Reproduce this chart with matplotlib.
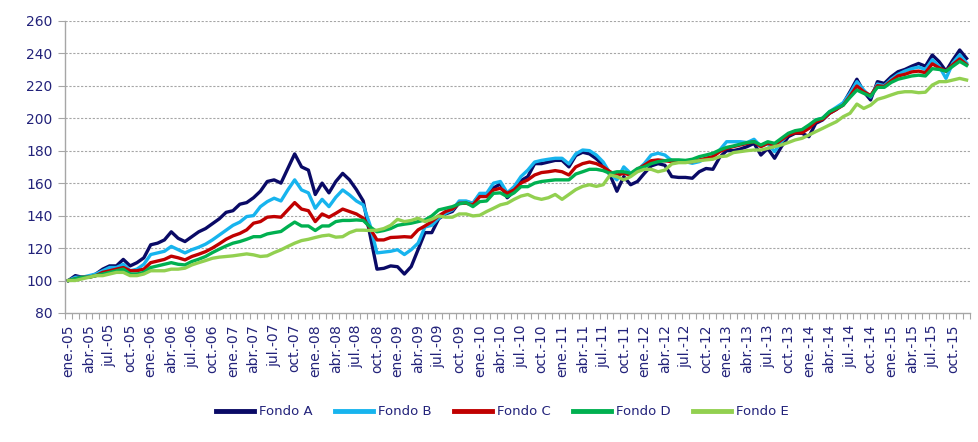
import matplotlib.pyplot as plt
from matplotlib.ticker import FixedLocator

# monthly index values, ene-05 .. dic-15 (base 100)
fondo_a = [100, 103, 102, 102, 104, 107, 109, 109, 113, 109, 111, 114, 122, 123, 125, 130, 126,
           124, 127, 130, 132, 135, 138, 142, 143, 147, 148, 151, 155, 161, 162, 160, 169, 178,
           170, 168, 153, 160, 154, 161, 166, 162, 156, 149, 128, 107, 107.5, 109, 108.5, 104,
           108.6, 119, 129.5, 129.5, 138, 141, 142.5, 148, 148.5, 147.5, 153, 153, 157, 159.5, 151, 155, 161.5,
           164, 172, 172, 173, 174, 174, 170, 177, 179, 178, 175, 171, 165, 155, 164, 159, 161,
           166, 170.6, 172, 171, 164, 163.5, 163.5, 163, 167, 169, 168.5, 176, 180, 180, 181, 182.5, 184.5,
           177.3, 181.4, 175.3, 182.5, 188.6, 190.7, 190.7, 188.6, 196.8, 198.9, 203, 205.4, 209, 216.3, 224, 216.3,
           211.2, 222.5, 221.4, 225.5, 228.6, 230, 232, 233.7, 232, 238.9, 234.8, 229, 235.8, 242, 236.8]

fondo_b = [100, 102, 102, 103, 104, 106, 108, 108, 110, 106, 107, 110, 116, 117, 118, 121, 119,
           117, 119, 120.5, 122.4, 125, 128, 131, 134, 136, 139.4, 140, 145.5, 148.6, 150.7, 149, 155.8, 162,
           155.8, 154, 144.5, 150, 145.5, 151.3, 155.8, 152.7, 149, 146.6, 134, 117, 117.5, 118, 119, 116,
           119, 123, 133, 134, 138.4, 141.4, 143.5, 149, 149, 147.6, 153.7, 153.7, 160, 161, 154, 157.8, 164,
           168, 173, 174, 174.7, 175.3, 175.3, 171.8, 178, 180.4, 180, 177.3, 173, 166, 162, 170, 166, 168,
           172, 177.3, 178.4, 177.3, 173.8, 173.2, 173.2, 172.2, 173.2, 175.3, 176.3, 180.4, 185.5, 185.5, 185.5, 185, 187,
           182.5, 184.5, 179.4, 185.5, 190.3, 191.7, 192.3, 194.8, 198.9, 200, 204, 206.7, 209.5, 215.3, 222.5, 217.3,
           213, 221, 220, 224, 227, 229, 230.5, 231.5, 230, 236, 232, 224.5, 234, 239, 234]

fondo_c = [100, 101, 102, 102, 103, 105, 106, 107, 108, 106, 106, 107, 111, 112, 113, 115, 114,
           112.7, 114.8, 116.2, 117.8, 120, 122.6, 125.4, 127.5, 129, 131.2, 135.3, 136.3, 139, 139.4, 139, 143.5, 148,
           144, 143, 136.3, 141, 139, 141.4, 144, 142.5, 141, 138.4, 132, 125, 125, 126.5, 126.7, 127,
           126.7, 131.2, 133.6, 136.3, 139.8, 142.5, 144, 147.6, 147.6, 146.6, 151.7, 151.7, 155.8, 156.8, 153.7, 155.8, 160,
           162, 165, 166.5, 167, 167.7, 167, 165, 170, 172, 173, 172, 170, 167, 165, 166, 165, 168.5,
           171, 173.8, 174.3, 173.8, 173.2, 173.2, 173.2, 173.2, 174.3, 175.3, 176.3, 179.4, 181.4, 182.5, 183.5, 184.5, 185.5,
           182.5, 184.5, 183.5, 186.6, 189.6, 191, 191, 193.7, 197.8, 199.3, 203, 205.4, 208, 213.6, 219.8, 216.3,
           214, 220, 219.5, 223, 226, 227, 228.5, 229, 228, 233.5, 231, 229, 233, 236.5, 233]

fondo_d = [100, 101, 102, 102, 103, 104, 105, 106, 107, 104, 104, 105, 108, 109, 110, 111, 110,
           109.6, 111.7, 113.1, 114.8, 117.2, 119.3, 121.3, 123, 124, 125.4, 127, 127, 128.7, 129.5, 130.2, 133.2, 136,
           133.6, 133.6, 130.8, 133.6, 133.6, 136.3, 137, 137, 137.3, 137, 133, 130, 130.8, 132, 134, 134.7,
           135.3, 136.3, 137.3, 139.8, 143.5, 144.5, 145.5, 147.2, 148, 145.5, 148.6, 149, 153.7, 154, 151.7, 154, 157.8,
           157.8, 160, 161, 161.5, 162, 162, 162, 165.6, 167, 168.5, 168.5, 167.7, 166, 167, 167, 166, 169,
           170, 172, 173.2, 173.8, 174.3, 174.3, 174, 174.7, 176.3, 177.3, 178.4, 180.4, 182, 182.9, 184, 185, 185.5,
           183.5, 185.5, 184.5, 187.6, 190.7, 192.3, 193, 195.8, 198.9, 200, 204, 206, 208, 212.8, 217.3, 215.3,
           213.5, 219, 219, 222, 224, 225, 226, 226.5, 226, 230.5, 230, 229, 232, 235, 232.5]

fondo_e = [100, 100, 101, 102, 103, 103, 104, 105, 105, 103, 103, 104, 106, 106, 106, 107, 107,
           107.6, 109.6, 111, 112.3, 113.7, 114.4, 114.8, 115.2, 115.8, 116.4, 115.8, 114.8, 115.2, 117.2, 118.9, 121, 123,
           124.6, 125.4, 126.5, 127.5, 128, 126.7, 127, 129.5, 131, 131, 130.8, 131, 132, 134, 137.7, 136.3,
           137, 138.4, 136.3, 137.7, 139.8, 139, 139, 141, 141, 139.8, 140.2, 142.5, 144.5, 146.6, 147.6, 150, 152,
           153, 151, 150, 151, 153, 150, 153, 156, 158, 159, 158, 159, 165, 164, 162, 164, 167,
           168.5, 168.5, 167, 168, 171.8, 172.6, 172.6, 173.2, 173.8, 174.3, 174.7, 176.3, 176.7, 178.8, 179.4, 180, 180.4,
           180.4, 181.4, 182.5, 183.5, 185, 186.6, 187.6, 189.6, 191.7, 193.7, 195.8, 197.8, 200.9, 203, 208.7, 206,
           208, 211.6, 212.8, 214.3, 215.7, 216.3, 216.3, 215.7, 216, 220.4, 222.5, 222.5, 223.5, 224.5, 223.5]

series_names = ['Fondo A', 'Fondo B', 'Fondo C', 'Fondo D', 'Fondo E']
series_colors = ['#0A0A66', '#17B4EE', '#C00000', '#00B050', '#92D050']
label_months = ['ene.', 'abr.', 'jul.', 'oct.']
years = ['05', '06', '07', '08', '09', '10', '11', '12', '13', '14', '15']
y_ticks = [80, 100, 120, 140, 160, 180, 200, 220, 240, 260]

text_color = '#22227A'
grid_color = '#A6A6A6'


def main():
    fig = plt.figure(figsize=(9.79, 4.42), dpi=100)
    ax = fig.add_axes([0.0664, 0.2919, 0.9244, 0.6611])

    all_series = [fondo_a, fondo_b, fondo_c, fondo_d, fondo_e]
    x = list(range(len(fondo_a)))
    for values, name, color in zip(all_series, series_names, series_colors):
        ax.plot(x, values, color=color, lw=2.4, label=name, solid_joinstyle='round')

    n = len(x)
    ax.set_xlim(-0.5, n - 0.5)
    ax.set_ylim(80, 260)

    # y axis
    ax.set_yticks(y_ticks)
    ax.set_yticklabels([str(v) for v in y_ticks])
    for v in y_ticks[1:]:
        ax.axhline(v, color=grid_color, lw=0.8, ls=(0, (2, 1.5)), zorder=0)

    # x axis: labels every 3 months at category centres, ticks at month boundaries
    labels = [m + '-' + yy for yy in years for m in label_months]
    ax.set_xticks(range(0, n, 3))
    ax.set_xticklabels(labels, rotation=90)
    ax.xaxis.set_minor_locator(FixedLocator([i - 0.5 for i in range(n + 1)]))
    ax.tick_params(axis='x', which='major', length=0, pad=8)
    ax.tick_params(axis='x', which='minor', length=4, color=grid_color, width=0.8)
    ax.tick_params(axis='y', length=5, color=grid_color, width=0.8, pad=4)
    ax.tick_params(labelsize=10, labelcolor=text_color)

    for side in ['top', 'right']:
        ax.spines[side].set_visible(False)
    for side in ['left', 'bottom']:
        ax.spines[side].set_color(grid_color)
        ax.spines[side].set_linewidth(1.0)

    leg = fig.legend(loc='center', bbox_to_anchor=(0.513, 0.068), ncol=5, frameon=False,
                     fontsize=9.5, handlelength=2.9, columnspacing=1.7, handletextpad=0.35)
    for t in leg.get_texts():
        t.set_color(text_color)
    for line in leg.get_lines():
        line.set_linewidth(3.5)

    fig.savefig('out.png', dpi=100)


if __name__ == "__main__":
    main()
